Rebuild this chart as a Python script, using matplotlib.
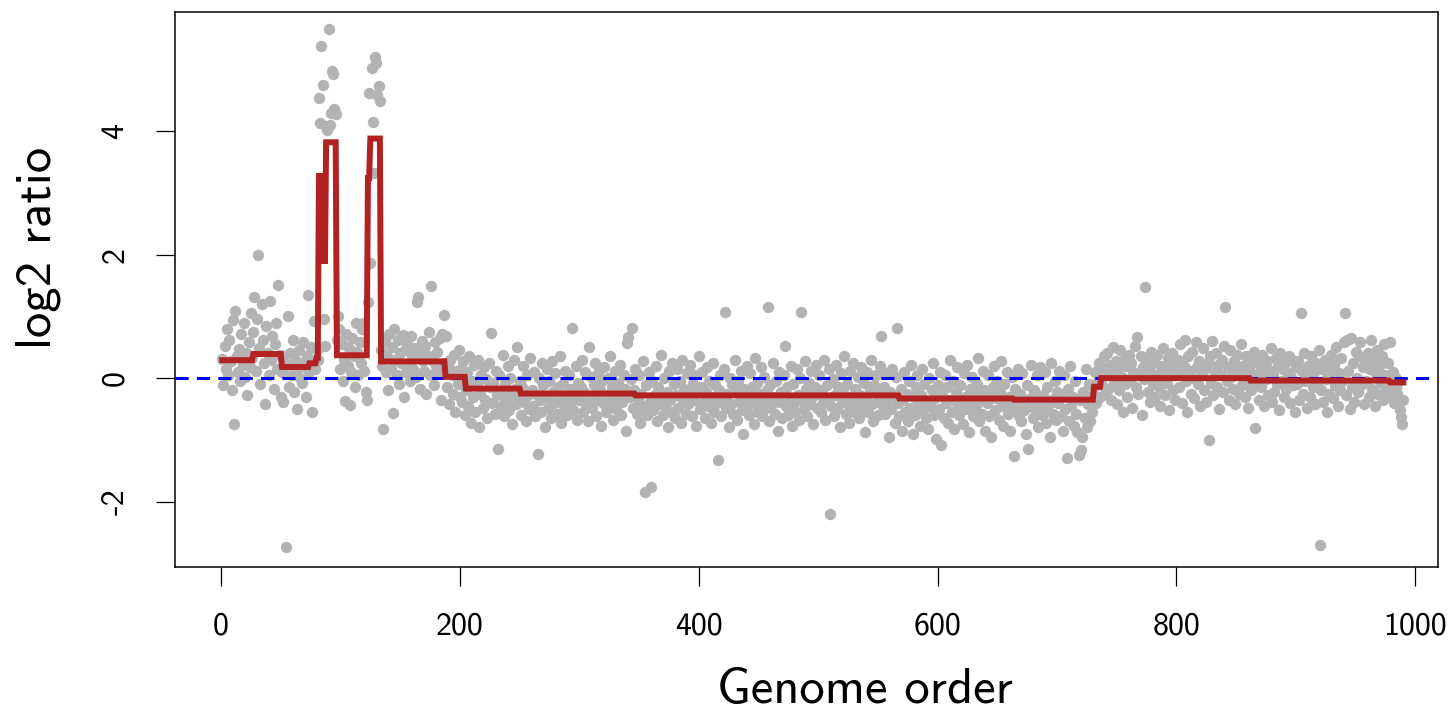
import numpy as np
import matplotlib
matplotlib.use("Agg")
import matplotlib.pyplot as plt

# log2 ratios, 10 per row (genome order 1..990)
ratio_001_100 = [
    0.31, -0.12, 0.52, 0.15, 0.80, 0.05, 0.62, 0.28, -0.20, 0.94,
    -0.75, 1.08, 0.35, 0.10, 0.47, -0.05, 0.71, 0.22, 0.90, 0.02,
    0.40, -0.28, 0.58, 0.18, 1.05, 0.33, 0.75, 1.32, 0.12, 0.95,
    1.99, 0.48, -0.10, 1.20, 0.62, 0.25, -0.42, 0.85, 0.40, 0.05,
    1.25, 0.30, 0.68, -0.18, 0.55, 0.90, 0.15, 1.50, 0.38, -0.30,
    0.10, -0.38, 0.35, -2.73, 0.22, 1.00, -0.15, 0.40, 0.05, 0.62,
    -0.22, 0.30, 0.12, -0.50, 0.45, 0.00, 0.25, -0.08, 0.58, 0.18,
    -0.30, 0.35, 1.34, 0.10, 0.50, -0.55, 0.28, 0.92, 0.15, 0.45,
    0.30, 4.54, 4.13, 5.38, 4.74, 0.95, 0.52, 4.08, 4.02, 5.65,
    4.10, 4.30, 4.97, 4.92, 4.36, 4.28, 0.62, 1.00, 0.80, 0.15,
]
ratio_101_200 = [
    0.55, -0.05, 0.30, -0.37, 0.72, 0.20, 0.48, -0.44, 0.10, 0.65,
    0.35, -0.15, 0.90, 0.42, 0.05, 0.58, 0.25, 0.80, 0.90, 0.12,
    -0.23, -0.36, 1.23, 4.62, 1.86, 5.02, 4.15, 3.32, 5.20, 5.10,
    4.58, 4.73, 4.49, 0.45, 0.20, -0.83, 0.60, 0.10, 0.35, -0.20,
    0.72, 0.15, 0.50, -0.56, 0.80, 0.30, 0.05, 0.62, -0.10, 0.40,
    0.25, 0.70, -0.30, 0.45, 0.10, 0.55, 0.22, -0.05, 0.68, 0.35,
    0.15, 0.48, 0.02, 1.23, 1.31, 0.40, -0.18, 0.60, 0.28, 0.12,
    0.52, -0.25, 0.35, 0.75, 0.05, 1.49, 0.30, -0.12, 0.58, 0.20,
    0.42, 0.10, 0.65, -0.35, 0.72, 0.25, 1.02, 0.68, -0.15, 0.20,
    -0.42, 0.30, 0.05, -0.25, 0.38, -0.55, 0.12, -0.10, 0.45, -0.30,
]
ratio_201_300 = [
    0.15, -0.38, 0.28, -0.60, -0.20, 0.10, -0.45, 0.35, -0.72, -0.05,
    -0.30, 0.22, -0.55, -0.12, 0.30, -0.80, -0.25, 0.05, -0.48, 0.18,
    -0.35, -0.02, -0.65, 0.25, -0.15, 0.73, -0.40, -0.08, -0.58, 0.12,
    -0.28, -1.15, 0.05, -0.45, -0.20, 0.38, -0.62, -0.10, -0.35, 0.20,
    -0.52, 0.00, -0.25, -0.75, 0.30, -0.18, -0.42, 0.50, -0.30, -0.05,
    -0.60, -0.15, 0.20, -0.38, -0.70, 0.05, -0.28, -0.50, 0.32, -0.20,
    -0.45, 0.10, -0.62, -0.25, -1.23, 0.00, -0.35, -0.55, 0.25, -0.12,
    -0.80, -0.30, 0.15, -0.48, -0.05, -0.65, 0.28, -0.22, -0.40, 0.08,
    -0.58, -0.15, -0.35, 0.35, -0.72, -0.10, -0.45, 0.12, -0.28, -0.60,
    0.05, -0.38, -0.18, 0.81, -0.52, -0.25, 0.20, -0.68, -0.08, -0.35,
]
ratio_301_400 = [
    -0.15, 0.30, -0.55, -0.22, 0.10, -0.42, -0.70, 0.51, -0.30, 0.02,
    -0.48, -0.12, 0.25, -0.62, -0.35, 0.08, -0.20, -0.78, -0.05, -0.40,
    0.18, -0.55, -0.28, 0.00, -0.45, 0.35, -0.15, -0.68, -0.32, 0.12,
    -0.50, -0.08, -0.25, 0.22, -0.60, -0.38, 0.05, -0.18, -0.85, 0.57,
    0.67, -0.30, -0.02, 0.81, -0.48, -0.20, 0.15, -0.58, -0.35, 0.05,
    -0.72, -0.25, 0.28, -0.45, -1.85, -0.12, -0.60, 0.10, -0.38, -1.76,
    -0.05, -0.52, -0.28, 0.20, -0.70, -0.15, -0.42, 0.38, -0.30, -0.60,
    0.00, -0.45, -0.22, -0.80, 0.12, -0.35, -0.55, 0.25, -0.10, -0.65,
    -0.28, 0.15, -0.48, -0.05, -0.72, 0.30, -0.38, -0.18, -0.58, 0.08,
    -0.42, -0.25, 0.22, -0.62, -0.10, -0.35, 0.05, -0.78, -0.20, 0.35,
]
ratio_401_500 = [
    -0.50, -0.15, 0.10, -0.38, -0.65, -0.22, 0.18, -0.45, -0.05, -0.72,
    -0.30, 0.25, -0.55, -0.12, -0.40, -1.33, -0.20, 0.05, -0.62, -0.35,
    0.15, 1.07, -0.48, -0.25, -0.80, 0.00, -0.42, -0.10, -0.58, 0.30,
    -0.22, -0.68, -0.05, -0.38, 0.12, -0.52, -0.90, -0.18, -0.30, 0.20,
    -0.45, -0.60, 0.08, -0.28, -0.15, -0.75, 0.32, -0.40, -0.08, -0.55,
    -0.25, 0.18, -0.62, -0.35, 0.02, -0.48, -0.20, 1.15, -0.70, -0.12,
    -0.42, 0.25, -0.30, -0.58, -0.05, -0.85, 0.10, -0.38, -0.22, -0.65,
    0.05, 0.52, -0.45, -0.15, -0.60, -0.32, 0.20, -0.78, -0.10, -0.40,
    -0.55, 0.15, -0.28, -0.68, 0.00, 1.07, -0.35, -0.50, 0.28, -0.18,
    -0.62, -0.08, -0.42, 0.12, -0.30, -0.75, -0.15, 0.22, -0.48, -0.25,
]
ratio_501_600 = [
    0.05, -0.55, -0.20, -0.40, 0.30, -0.68, -0.12, -0.35, 0.15, -2.20,
    -0.45, -0.02, -0.62, -0.28, 0.22, -0.50, -0.15, -0.80, 0.08, -0.38,
    -0.22, 0.35, -0.58, -0.10, -0.42, -0.72, 0.12, -0.30, 0.25, -0.55,
    -0.18, -0.40, 0.02, -0.65, -0.28, 0.18, -0.48, -0.08, -0.88, -0.32,
    0.10, -0.55, -0.20, 0.30, -0.42, -0.70, -0.12, 0.05, -0.38, -0.60,
    -0.25, 0.20, 0.68, -0.45, -0.15, -0.58, 0.08, -0.35, -0.95, -0.22,
    -0.50, 0.15, -0.30, -0.72, 0.02, 0.81, -0.40, -0.62, -0.18, -0.85,
    -0.35, 0.10, -0.55, -0.25, -0.70, -0.05, -0.48, 0.22, -0.90, -0.30,
    -0.60, -0.15, 0.05, -0.42, -0.78, -0.28, 0.15, -0.52, -0.10, -0.65,
    -0.38, -0.82, 0.00, -0.45, -0.20, 0.25, -0.60, -0.32, -0.98, -0.12,
]
ratio_601_700 = [
    -0.50, 0.10, -1.09, -0.28, -0.65, 0.05, -0.40, -0.15, -0.72, 0.30,
    -0.35, -0.55, -0.05, -0.82, -0.22, 0.18, -0.48, -0.60, -0.12, -0.38,
    -0.75, 0.08, -0.30, -0.50, 0.22, -0.88, -0.18, -0.42, 0.02, -0.62,
    -0.25, -0.45, -0.10, 0.32, -0.70, -0.35, -0.58, 0.12, -0.20, -0.85,
    -0.40, 0.05, -0.62, -0.28, -0.95, -0.15, 0.20, -0.52, -0.32, -0.05,
    -0.68, -0.22, 0.28, -0.45, -0.78, -0.10, -0.38, 0.10, -0.58, -0.30,
    -0.85, 0.02, -0.48, -1.27, -0.18, -0.40, 0.15, -0.62, -0.25, -0.70,
    0.08, -0.52, -0.35, -0.90, -0.12, -1.15, -0.45, 0.22, -0.30, -0.65,
    -0.20, -0.55, 0.05, -0.80, -0.38, 0.18, -0.60, -0.28, -0.48, 0.10,
    -0.72, -0.15, -0.42, -0.95, 0.25, -0.35, -0.58, -0.05, -0.68, -0.22,
]
ratio_701_800 = [
    -0.40, 0.12, -0.62, -0.25, -0.85, 0.05, -0.50, -1.29, -0.18, -0.70,
    0.20, -0.45, -0.30, -0.78, -0.05, -0.58, -0.88, -1.25, -0.35, -1.17,
    -0.95, -0.22, -0.65, 0.15, -0.80, -0.42, -0.10, -0.70, -0.55, -0.28,
    -0.15, 0.10, -0.40, -0.05, 0.25, -0.30, 0.18, -0.12, 0.35, -0.25,
    0.05, 0.40, -0.18, 0.22, -0.35, 0.12, 0.50, -0.08, 0.28, -0.42,
    0.15, -0.20, 0.45, 0.02, -0.55, 0.30, -0.10, 0.20, -0.30, 0.38,
    -0.05, 0.25, -0.48, 0.10, 0.52, -0.15, 0.67, -0.25, 0.08, 0.35,
    -0.60, 0.18, -0.02, 1.48, 0.30, -0.22, 0.12, -0.38, 0.42, -0.10,
    0.25, -0.30, 0.05, 0.38, -0.15, -0.45, 0.20, 0.00, 0.48, -0.28,
    0.15, -0.08, 0.32, -0.52, 0.10, 0.40, -0.20, 0.22, -0.35, 0.05,
]
ratio_801_900 = [
    0.30, -0.15, 0.55, 0.08, -0.40, 0.20, 0.62, -0.05, -0.55, 0.35,
    0.12, -0.25, 0.42, 0.00, -0.32, 0.58, 0.18, -0.10, 0.28, -0.45,
    0.05, 0.48, -0.20, 0.15, -0.38, 0.25, -1.00, 0.35, -0.08, 0.60,
    -0.28, 0.10, 0.40, -0.15, 0.22, -0.50, 0.05, 0.30, -0.22, 0.52,
    1.15, -0.05, 0.18, -0.35, 0.45, 0.02, -0.18, 0.28, -0.42, 0.12,
    0.38, -0.25, 0.08, 0.55, -0.12, 0.20, -0.30, 0.35, 0.00, -0.48,
    0.15, -0.20, 0.30, -0.08, 0.42, -0.81, 0.05, 0.25, -0.35, 0.10,
    -0.15, 0.38, -0.45, 0.18, -0.02, 0.28, -0.28, 0.12, 0.48, -0.38,
    0.05, -0.22, 0.32, -0.10, 0.20, -0.52, 0.40, -0.05, 0.15, -0.30,
    0.25, -0.18, 0.08, 0.35, -0.40, 0.02, 0.30, -0.12, -0.55, 0.18,
]
ratio_901_990 = [
    -0.10, 0.28, -0.35, 1.06, 0.12, -0.25, 0.40, -0.05, -0.48, 0.20,
    0.02, -0.30, 0.35, -0.15, 0.10, -0.42, 0.25, -0.08, 0.45, -2.71,
    -0.20, 0.15, -0.38, 0.30, -0.02, -0.55, 0.18, -0.25, 0.38, 0.05,
    -0.32, 0.22, -0.12, 0.50, -0.45, 0.08, -0.20, 0.32, -0.05, 0.58,
    1.05, -0.28, 0.62, 0.12, -0.50, 0.65, -0.15, 0.25, -0.38, 0.42,
    0.00, -0.22, 0.35, 0.58, -0.10, 0.18, -0.42, 0.28, -0.05, 0.40,
    -0.30, 0.15, 0.62, -0.18, 0.30, -0.45, 0.08, 0.45, -0.25, 0.20,
    -0.08, 0.35, -0.35, 0.55, 0.05, -0.20, 0.25, -0.12, 0.58, -0.30,
    0.10, -0.40, 0.02, -0.15, -0.25, -0.05, -0.52, -0.63, -0.75, -0.35,
]

# segmented mean (start, end inclusive, level)
seg_start = [1, 27, 51, 74, 80, 82, 83, 84, 85, 86, 87, 88, 97, 123, 125,
             134, 188, 205, 251, 347, 568, 664, 731, 737, 862, 979]
seg_end = [26, 50, 73, 79, 81, 82, 83, 84, 85, 86, 87, 96, 122, 124, 133,
           187, 204, 250, 346, 567, 663, 730, 736, 861, 978, 990]
seg_mean = [0.29, 0.39, 0.18, 0.24, 0.33, 3.32, 1.85, 3.32, 1.85, 3.32, 1.85,
            3.82, 0.37, 3.24, 3.88, 0.27, 0.02, -0.17, -0.25, -0.28, -0.33,
            -0.35, -0.14, 0.00, -0.04, -0.07]

y_ticks = [-2, 0, 2, 4]
x_ticks = [0, 200, 400, 600, 800, 1000]


def plot_profile():
    ratio = np.array(ratio_001_100 + ratio_101_200 + ratio_201_300 + ratio_301_400
                     + ratio_401_500 + ratio_501_600 + ratio_601_700 + ratio_701_800
                     + ratio_801_900 + ratio_901_990)
    pos = np.arange(1, len(ratio) + 1)

    seg = np.zeros(len(ratio))
    for s, e, m in zip(seg_start, seg_end, seg_mean):
        seg[s - 1:e] = m

    plt.rcParams['font.family'] = 'cmss10'
    plt.rcParams['axes.unicode_minus'] = False

    fig = plt.figure(figsize=(14.54, 7.15), dpi=100)
    ax = fig.add_axes([0.1204, 0.2070, 0.8686, 0.7762])

    ax.plot(pos, ratio, 'o', color='#b3b3b3', ms=8.2, mec='none', zorder=2)
    ax.axhline(0, color='blue', lw=2.2, dashes=(4.3, 2.7), zorder=3)
    ax.plot(pos, seg, color='#b22222', lw=4.3, solid_joinstyle='miter', zorder=4)

    ax.set_xlim(-38.5, 1019)
    ax.set_ylim(-3.06, 5.93)
    ax.set_xticks(x_ticks)
    ax.set_yticks(y_ticks)
    ax.tick_params(length=14, width=0.9, labelsize=23, direction='out')
    ax.tick_params(axis='x', pad=18)
    ax.tick_params(axis='y', pad=19)
    for lab in ax.get_yticklabels():
        lab.set_rotation(90)
        lab.set_va('center')
    for sp in ax.spines.values():
        sp.set_linewidth(1.1)

    fig.text(865 / 1454, 1 - 690 / 715, 'Genome order', fontsize=36.5,
             ha='center', va='center')
    fig.text(38 / 1454, 1 - 248 / 715, 'log2 ratio', fontsize=36.5,
             ha='center', va='center', rotation=90)

    fig.savefig('out.png', dpi=100)


if __name__ == "__main__":
    plot_profile()
